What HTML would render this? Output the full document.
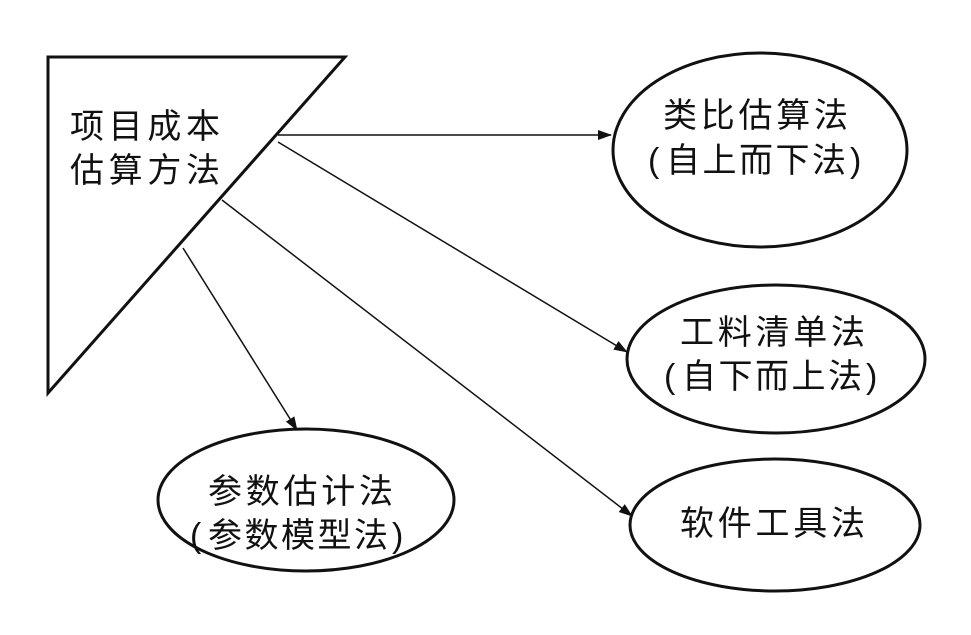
<!DOCTYPE html>
<html><head><meta charset="utf-8"><style>
html,body{margin:0;padding:0;background:#fff;}
text{font-family:"Liberation Sans","Noto Sans CJK SC",sans-serif;font-size:34px;fill:#111;}
</style></head><body>
<svg width="971" height="630" viewBox="0 0 971 630" xmlns="http://www.w3.org/2000/svg">
<defs><marker id="a" markerWidth="14" markerHeight="10" refX="13" refY="5" orient="auto" markerUnits="userSpaceOnUse"><path d="M0,0 L14,5 L0,10 Z" fill="#111"/></marker></defs>
<polygon points="48,57 345,57 48,393" fill="none" stroke="#111" stroke-width="3"/>
<ellipse cx="760" cy="150" rx="147" ry="97" fill="none" stroke="#111" stroke-width="3"/>
<ellipse cx="776" cy="359" rx="149" ry="74" fill="none" stroke="#111" stroke-width="3"/>
<ellipse cx="775" cy="525" rx="145" ry="66" fill="none" stroke="#111" stroke-width="3"/>
<ellipse cx="306" cy="500" rx="148" ry="71" fill="none" stroke="#111" stroke-width="3"/>
<g stroke="#111" stroke-width="1.5" marker-end="url(#a)">
<line x1="278" y1="135" x2="611" y2="135"/>
<line x1="278" y1="142" x2="627" y2="352"/>
<line x1="222" y1="200" x2="632" y2="516"/>
<line x1="183" y1="248" x2="297" y2="430"/>
</g>
<text x="70" y="138" textLength="150">项目成本</text>
<text x="70" y="182" textLength="150">估算方法</text>
<text x="663" y="127" textLength="185">类比估算法</text>
<text x="648" y="172">(</text><text x="666" y="172" textLength="180">自上而下法</text><text x="850" y="172">)</text>
<text x="680" y="344" textLength="185">工料清单法</text>
<text x="664" y="388">(</text><text x="682" y="388" textLength="180">自下而上法</text><text x="866" y="388">)</text>
<text x="680" y="535" textLength="185">软件工具法</text>
<text x="208" y="503" textLength="185">参数估计法</text>
<text x="190" y="547">(</text><text x="208" y="547" textLength="180">参数模型法</text><text x="392" y="547">)</text>
</svg>
</body></html>
